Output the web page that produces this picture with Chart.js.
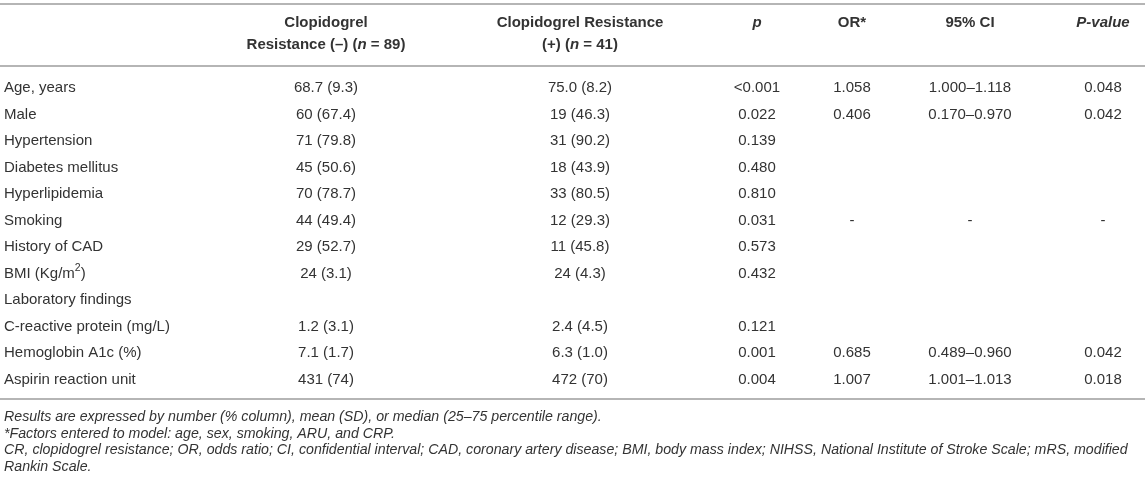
<!DOCTYPE html>
<html><head><meta charset="utf-8">
<script src="https://cdn.jsdelivr.net/npm/chart.js@4.4.1/dist/chart.umd.min.js"></script>
<style>html,body{margin:0;padding:0;background:#fff;}#wrap{width:1145px;height:487px;position:relative;}canvas{display:block;}</style>
</head><body><div id="wrap"><canvas id="c" width="1145" height="487"></canvas></div>
<script>
// ---- table content ----
const rowLabels = ["Age, years","Male","Hypertension","Diabetes mellitus","Hyperlipidemia","Smoking","History of CAD","BMI (Kg/m2)","Laboratory findings","C-reactive protein (mg/L)","Hemoglobin A1c (%)","Aspirin reaction unit"];
const resistNeg = ["68.7 (9.3)","60 (67.4)","71 (79.8)","45 (50.6)","70 (78.7)","44 (49.4)","29 (52.7)","24 (3.1)",null,"1.2 (3.1)","7.1 (1.7)","431 (74)"];
const resistPos = ["75.0 (8.2)","19 (46.3)","31 (90.2)","18 (43.9)","33 (80.5)","12 (29.3)","11 (45.8)","24 (4.3)",null,"2.4 (4.5)","6.3 (1.0)","472 (70)"];
const pUnivariate = ["<0.001","0.022","0.139","0.480","0.810","0.031","0.573","0.432",null,"0.121","0.001","0.004"];
const oddsRatio = ["1.058","0.406",null,null,null,"-",null,null,null,null,"0.685","1.007"];
const ci95 = ["1.000\u20131.118","0.170\u20130.970",null,null,null,"-",null,null,null,null,"0.489\u20130.960","1.001\u20131.013"];
const pMultivariate = ["0.048","0.042",null,null,null,"-",null,null,null,null,"0.042","0.018"];
const headerLine1 = [null,[{t:"Clopidogrel"}],[{t:"Clopidogrel Resistance"}],[{t:"p",i:true}],[{t:"OR*"}],[{t:"95% CI"}],[{t:"P-value",i:true}]];
const headerLine2 = [null,[{t:"Resistance (\u2013) ("},{t:"n",i:true},{t:" = 89)"}],[{t:"(+) ("},{t:"n",i:true},{t:" = 41)"}],null,null,null,null];
const footnotes = [
  "Results are expressed by number (% column), mean (SD), or median (25\u201375 percentile range).",
  "*Factors entered to model: age, sex, smoking, ARU, and CRP.",
  "CR, clopidogrel resistance; OR, odds ratio; CI, confidential interval; CAD, coronary artery disease; BMI, body mass index; NIHSS, National Institute of Stroke Scale; mRS, modified",
  "Rankin Scale."
];
const columns = [rowLabels, resistNeg, resistPos, pUnivariate, oddsRatio, ci95, pMultivariate];

// ---- layout / style (not data) ----
const layoutCfg = {
  colX: [4, 326, 580, 757, 852, 970, 1103],
  colAlign: ['left','center','center','center','center','center','center'],
  family: '"Liberation Sans", Arial, Helvetica, sans-serif',
  bodySize: 15, headSize: 15, noteSize: 14.2,
  color: '#333333', lineColor: '#b5b5b5', lineWidth: 2,
  rules: [4, 66, 399],
  headerY: [23, 45],
  noteY: [417, 433.7, 450.4, 467]
};

function segsOf(v){
  if (v == null) return null;
  if (Array.isArray(v)) return v;
  if (v === "BMI (Kg/m2)") return [{t:"BMI (Kg/m"},{t:"2",sup:true},{t:")"}];
  return [{t:v}];
}
function fontOf(s, size, bold, italic){
  const sz = s.sup ? size*0.7 : size;
  return ((italic||s.i)?'italic ':'') + ((bold||s.b)?'bold ':'') + sz + 'px ' + layoutCfg.family;
}
function drawRich(ctx, segs, x, y, align, size, bold, italic){
  let w = 0;
  const ws = segs.map(s => { ctx.font = fontOf(s,size,bold,italic); const m = ctx.measureText(s.t).width; w += m; return m; });
  let cx = align === 'center' ? x - w/2 : x;
  segs.forEach((s,k) => {
    ctx.font = fontOf(s,size,bold,italic);
    ctx.fillText(s.t, cx, s.sup ? y - size*0.35 : y);
    cx += ws[k];
  });
}

const tablePlugin = {
  id: 'tablePlugin',
  beforeDraw(chart){
    const ctx = chart.ctx;
    ctx.save();
    ctx.fillStyle = '#fff'; ctx.fillRect(0,0,chart.width,chart.height);
    ctx.strokeStyle = layoutCfg.lineColor; ctx.lineWidth = layoutCfg.lineWidth;
    layoutCfg.rules.forEach(y => { ctx.beginPath(); ctx.moveTo(0,y); ctx.lineTo(chart.width,y); ctx.stroke(); });
    ctx.restore();
  },
  afterDatasetsDraw(chart){
    const ctx = chart.ctx;
    const xs = chart.scales.x;
    ctx.save();
    ctx.fillStyle = layoutCfg.color;
    ctx.textBaseline = 'middle';
    [headerLine1, headerLine2].forEach((line, li) => {
      line.forEach((segs, c) => {
        if (!segs) return;
        drawRich(ctx, segs, xs.getPixelForValue(layoutCfg.colX[c]), layoutCfg.headerY[li], layoutCfg.colAlign[c], layoutCfg.headSize, true, false);
      });
    });
    chart.data.datasets.forEach((ds, c) => {
      const meta = chart.getDatasetMeta(c);
      meta.data.forEach((el, i) => {
        const segs = segsOf(ds.data[i].text);
        drawRich(ctx, segs, el.x, el.y, layoutCfg.colAlign[c], layoutCfg.bodySize, false, false);
      });
    });
    footnotes.forEach((t, k) => {
      drawRich(ctx, [{t}], 4, layoutCfg.noteY[k], 'left', layoutCfg.noteSize, false, true);
    });
    ctx.restore();
  }
};

const datasets = columns.map((col, c) => ({
  label: 'col' + c,
  data: col.map((v, i) => v == null ? null : ({x: layoutCfg.colX[c], y: rowLabels[i], text: v})).filter(d => d),
  pointRadius: 0, pointHoverRadius: 0, showLine: false
}));

new Chart(document.getElementById('c'), {
  type: 'scatter',
  data: { datasets },
  options: {
    responsive: false, animation: false, devicePixelRatio: 1,
    layout: { padding: { top: 74.75, bottom: 94.25, left: 0, right: 0 } },
    plugins: { legend: {display:false}, tooltip: {enabled:false} },
    events: [],
    scales: {
      x: { type: 'linear', min: 0, max: 1145, display: false },
      y: { type: 'category', labels: rowLabels, offset: true, display: false }
    }
  },
  plugins: [tablePlugin]
});
</script></body></html>
